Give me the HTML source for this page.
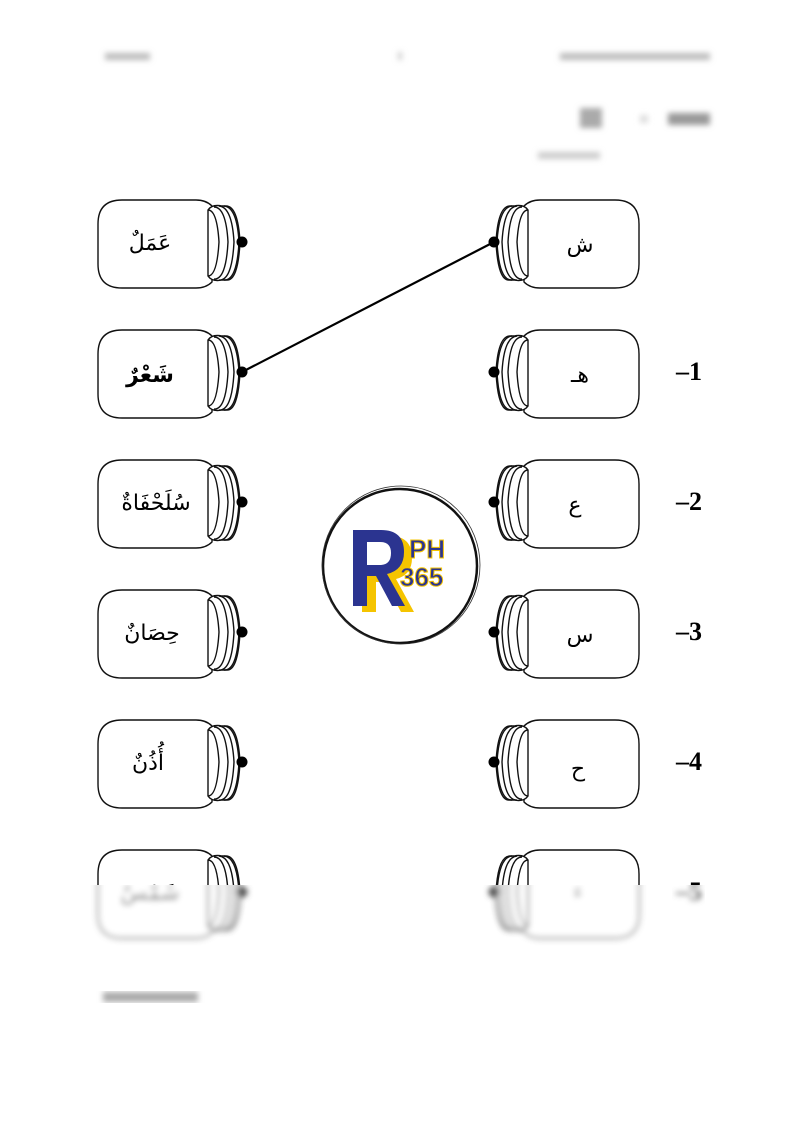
<!DOCTYPE html>
<html><head><meta charset="utf-8"><style>
html,body{margin:0;padding:0;background:#fff;}
svg{display:block;}
</style></head><body>
<svg width="800" height="1131" viewBox="0 0 800 1131" xmlns="http://www.w3.org/2000/svg" font-family="'Liberation Serif','Noto Serif CJK SC',serif">
<defs>
  <g id="jl" fill="#fff" stroke="#111" stroke-width="1.4">
    <path d="M212,-36 Q206,-42 196,-42 L122,-42 Q98,-42 98,-18 L98,22 Q98,46 122,46 L196,46 Q206,46 212,40 Z"/>
    <path d="M208,-32 Q212,-38 222,-36 L226,-36 Q238,-36 240,0 Q238,40 226,38 L222,38 Q212,40 208,34 Z"/>
    <path d="M214,-35 Q226,-35 228,0 Q226,38 214,37" fill="none"/>
    <path d="M219,-36 Q232,-35 234,0 Q232,39 219,38" fill="none"/>
    <path d="M224,-36 Q237,-35 239,0 Q237,39 224,38" fill="none"/>
    <path d="M208,-32 Q217,-32 219,0 Q217,34 208,34" fill="none"/>
  </g>
  <g id="jr" fill="#fff" stroke="#111" stroke-width="1.4">
    <path d="M524,-36 Q530,-42 540,-42 L615,-42 Q639,-42 639,-18 L639,22 Q639,46 615,46 L540,46 Q530,46 524,40 Z"/>
    <path d="M528,-32 Q524,-38 514,-36 L510,-36 Q498,-36 496,0 Q498,40 510,38 L514,38 Q524,40 528,34 Z"/>
    <path d="M522,-35 Q510,-35 508,0 Q510,38 522,37" fill="none"/>
    <path d="M517,-36 Q504,-35 502,0 Q504,39 517,38" fill="none"/>
    <path d="M512,-36 Q499,-35 497,0 Q499,39 512,38" fill="none"/>
    <path d="M528,-32 Q519,-32 517,0 Q519,34 528,34" fill="none"/>
  </g>
  <filter id="bl"><feGaussianBlur stdDeviation="3"/></filter>
  <clipPath id="top" clipPathUnits="userSpaceOnUse"><rect x="0" y="0" width="800" height="885"/></clipPath>
  <clipPath id="bot" clipPathUnits="userSpaceOnUse"><rect x="0" y="885" width="800" height="246"/></clipPath>
</defs>

<!-- blurred header -->
<g filter="url(#bl)">
  <rect x="105" y="53" width="45" height="7" fill="#bbb"/>
  <rect x="398" y="52" width="4" height="8" fill="#ccc"/>
  <rect x="560" y="53" width="150" height="7" fill="#bbb"/>
  <rect x="668" y="113" width="42" height="12" fill="#999"/>
  <rect x="640" y="115" width="8" height="8" fill="#ddd"/>
  <rect x="580" y="108" width="22" height="20" fill="#aaa"/>
  <rect x="538" y="152" width="62" height="7" fill="#ccc"/>
</g>

<line x1="242" y1="372" x2="494" y2="242" stroke="#000" stroke-width="2.2"/>

<g font-family="'DejaVu Sans',sans-serif" font-size="22" text-anchor="middle">
<g transform="translate(0,242)"><use href="#jl"/><use href="#jr"/><text x="150" y="8">عَمَلٌ</text><text x="580" y="10">ش</text><circle cx="242" cy="0" r="5.5"/><circle cx="494" cy="0" r="5.5"/></g>
<g transform="translate(0,372)"><use href="#jl"/><use href="#jr"/><text x="150" y="10" font-weight="bold">شَعْرٌ</text><text x="580" y="10">هـ</text><circle cx="242" cy="0" r="5.5"/><circle cx="494" cy="0" r="5.5"/></g>
<g transform="translate(0,502)"><use href="#jl"/><use href="#jr"/><text x="156" y="8">سُلَحْفَاةٌ</text><text x="575" y="10">ع</text><circle cx="242" cy="0" r="5.5"/><circle cx="494" cy="0" r="5.5"/></g>
<g transform="translate(0,632)"><use href="#jl"/><use href="#jr"/><text x="152" y="8">حِصَانٌ</text><text x="580" y="10">س</text><circle cx="242" cy="0" r="5.5"/><circle cx="494" cy="0" r="5.5"/></g>
<g transform="translate(0,762)"><use href="#jl"/><use href="#jr"/><text x="148" y="8">أُذُنٌ</text><text x="578" y="14">ح</text><circle cx="242" cy="0" r="5.5"/><circle cx="494" cy="0" r="5.5"/></g>
<g clip-path="url(#top)"><g transform="translate(0,892)"><use href="#jl"/><use href="#jr"/><text x="150" y="8">شَمْسٌ</text></g></g>
<g clip-path="url(#bot)"><g filter="url(#bl)"><g transform="translate(0,892)"><use href="#jl"/><use href="#jr"/><text x="150" y="8" fill="#777">شَمْسٌ</text><text x="578" y="6" fill="#aaa">ء</text><circle cx="242" cy="0" r="5.5" fill="#555"/><circle cx="494" cy="0" r="5.5" fill="#555"/></g></g></g>
</g>

<g font-size="26" font-weight="bold" font-family="'Liberation Serif',serif">
<text x="676" y="380">–1</text>
<text x="676" y="510">–2</text>
<text x="676" y="640">–3</text>
<text x="676" y="770">–4</text>
<g clip-path="url(#top)"><text x="676" y="900">–5</text></g>
<g clip-path="url(#bot)"><g filter="url(#bl)"><text x="676" y="900" fill="#666">–5</text></g></g>
</g>

<!-- footer blurred -->
<g filter="url(#bl)"><rect x="103" y="992" width="95" height="10" fill="#aaa"/></g>

<!-- logo -->
<g>
  <circle cx="400" cy="566" r="77" fill="#fff" stroke="#111" stroke-width="2.5"/>
  <circle cx="401" cy="565" r="79" fill="none" stroke="#333" stroke-width="0.8"/>
  <path d="M362,536 L390,536 Q412,536 412,558 Q412,575 396,579 L414,612 L401,612 L385,582 L376,582 L376,612 L362,612 Z" fill="#f5c400"/>
  <path d="M353,530 L381,530 Q404,530 404,552 Q404,570 387,574 L405,606 L392,606 L376,576 L367,576 L367,606 L353,606 Z" fill="#2b3490"/>
  <path d="M367,542 L380,542 Q391,542 391,553 Q391,565 380,565 L367,565 Z" fill="#fff"/>
  <text x="409" y="558" font-family="'Liberation Sans',sans-serif" font-weight="bold" font-size="26" fill="#2b3490" stroke="#f5c400" stroke-width="1">PH</text>
  <text x="400" y="586" font-family="'Liberation Sans',sans-serif" font-weight="bold" font-size="26" fill="#2b3490" stroke="#f5c400" stroke-width="1">365</text>
</g>
</svg>
</body></html>
